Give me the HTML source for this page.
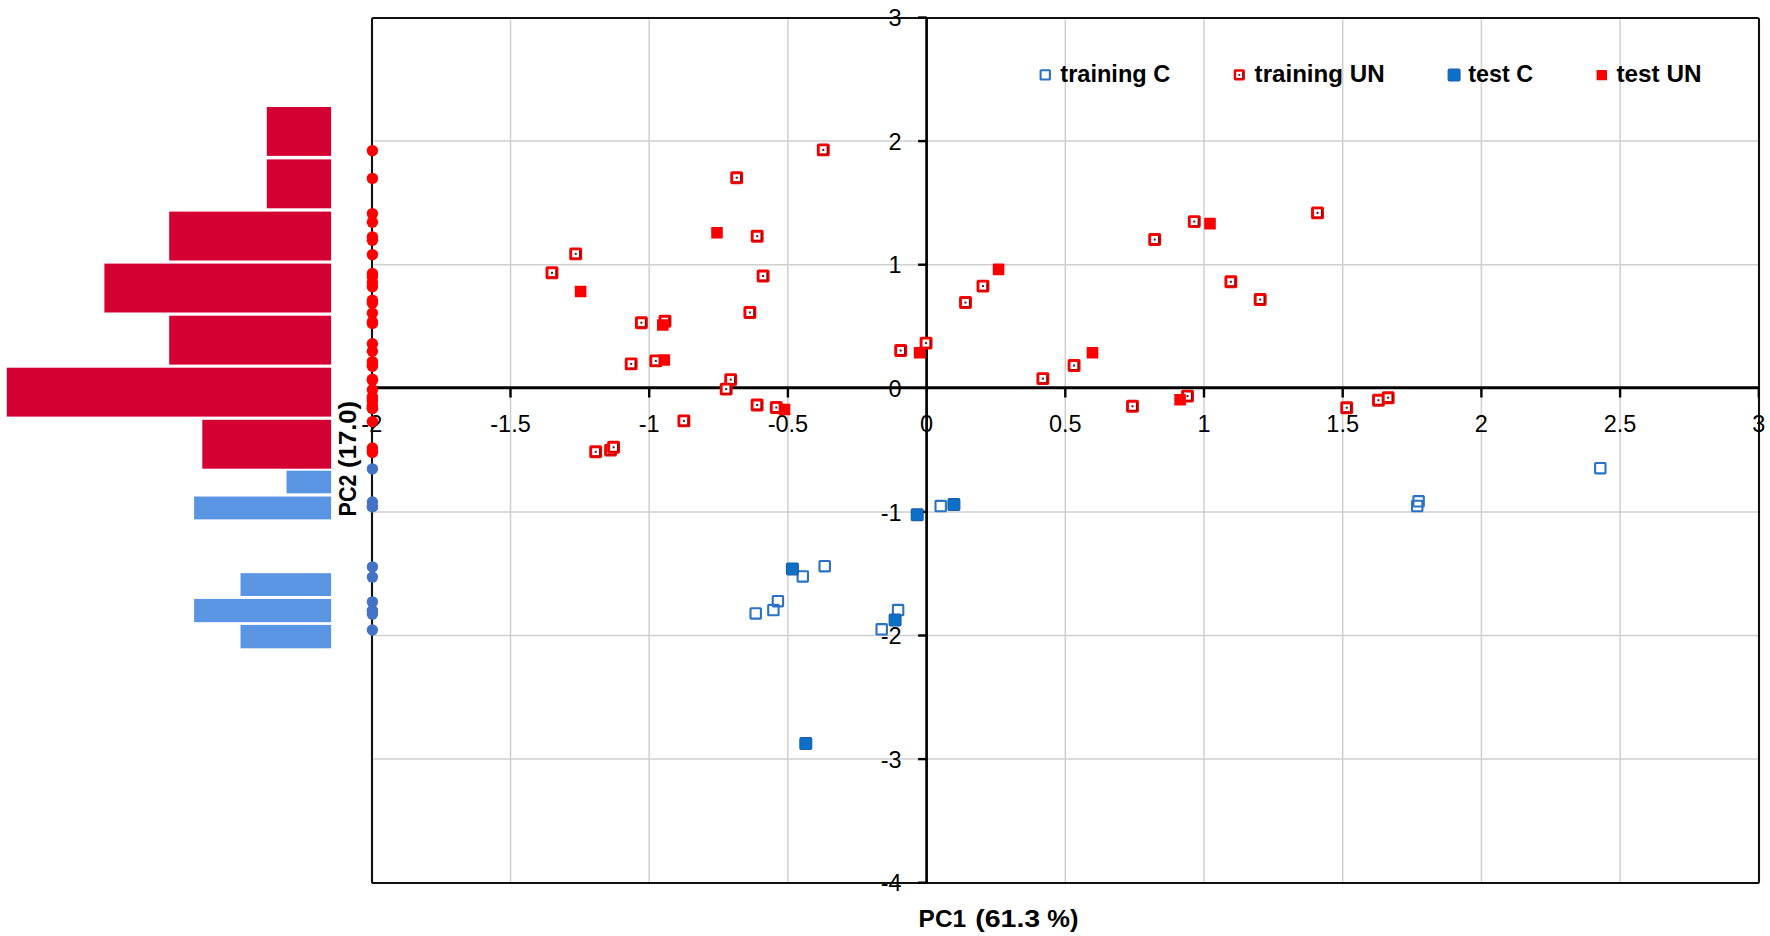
<!DOCTYPE html>
<html lang="en"><head><meta charset="utf-8"><title>PCA score plot</title>
<style>html,body{margin:0;padding:0;background:#fff}svg{display:block}text{font-family:"Liberation Sans",sans-serif;fill:#000}.t{font-size:23.5px}.b{font-weight:bold}</style></head><body>
<svg width="1770" height="936" viewBox="0 0 1770 936">
<rect width="1770" height="936" fill="#fff"/>
<g stroke="#cfcfcf" stroke-width="1.5" fill="none">
<line x1="510.5" y1="19.5" x2="510.5" y2="881.7"/>
<line x1="649.2" y1="19.5" x2="649.2" y2="881.7"/>
<line x1="787.9" y1="19.5" x2="787.9" y2="881.7"/>
<line x1="1065.3" y1="19.5" x2="1065.3" y2="881.7"/>
<line x1="1204.0" y1="19.5" x2="1204.0" y2="881.7"/>
<line x1="1342.7" y1="19.5" x2="1342.7" y2="881.7"/>
<line x1="1481.4" y1="19.5" x2="1481.4" y2="881.7"/>
<line x1="1620.1" y1="19.5" x2="1620.1" y2="881.7"/>
<line x1="373.8" y1="141.1" x2="1757.8" y2="141.1"/>
<line x1="373.8" y1="264.7" x2="1757.8" y2="264.7"/>
<line x1="373.8" y1="511.9" x2="1757.8" y2="511.9"/>
<line x1="373.8" y1="635.5" x2="1757.8" y2="635.5"/>
<line x1="373.8" y1="759.1" x2="1757.8" y2="759.1"/>
</g>
<rect x="372" y="18" width="1387" height="865" rx="1.5" fill="none" stroke="#111" stroke-width="2.1"/>
<g stroke="#000" fill="none">
<line x1="371.8" y1="387.7" x2="1759.3" y2="387.7" stroke-width="3"/>
<line x1="926.6" y1="17.0" x2="926.6" y2="883.2" stroke-width="2.7"/>
<line x1="371.8" y1="387.7" x2="371.8" y2="397.5" stroke-width="2.4"/>
<line x1="510.5" y1="387.7" x2="510.5" y2="397.5" stroke-width="2.4"/>
<line x1="649.2" y1="387.7" x2="649.2" y2="397.5" stroke-width="2.4"/>
<line x1="787.9" y1="387.7" x2="787.9" y2="397.5" stroke-width="2.4"/>
<line x1="1065.3" y1="387.7" x2="1065.3" y2="397.5" stroke-width="2.4"/>
<line x1="1204.0" y1="387.7" x2="1204.0" y2="397.5" stroke-width="2.4"/>
<line x1="1342.7" y1="387.7" x2="1342.7" y2="397.5" stroke-width="2.4"/>
<line x1="1481.4" y1="387.7" x2="1481.4" y2="397.5" stroke-width="2.4"/>
<line x1="1620.1" y1="387.7" x2="1620.1" y2="397.5" stroke-width="2.4"/>
<line x1="1758.8" y1="387.7" x2="1758.8" y2="397.5" stroke-width="2.4"/>
<line x1="918.1" y1="17.5" x2="926.6" y2="17.5" stroke-width="2.4"/>
<line x1="918.1" y1="141.1" x2="926.6" y2="141.1" stroke-width="2.4"/>
<line x1="918.1" y1="264.7" x2="926.6" y2="264.7" stroke-width="2.4"/>
<line x1="918.1" y1="511.9" x2="926.6" y2="511.9" stroke-width="2.4"/>
<line x1="918.1" y1="635.5" x2="926.6" y2="635.5" stroke-width="2.4"/>
<line x1="918.1" y1="759.1" x2="926.6" y2="759.1" stroke-width="2.4"/>
<line x1="918.1" y1="882.7" x2="926.6" y2="882.7" stroke-width="2.4"/>
</g>
<g class="t" text-anchor="middle">
<text x="371.8" y="432.4">-2</text>
<text x="510.5" y="432.4">-1.5</text>
<text x="649.2" y="432.4">-1</text>
<text x="787.9" y="432.4">-0.5</text>
<text x="926.6" y="432.4">0</text>
<text x="1065.3" y="432.4">0.5</text>
<text x="1204.0" y="432.4">1</text>
<text x="1342.7" y="432.4">1.5</text>
<text x="1481.4" y="432.4">2</text>
<text x="1620.1" y="432.4">2.5</text>
<text x="1758.8" y="432.4">3</text>
</g>
<g class="t" text-anchor="end">
<text x="901.6" y="26.1">3</text>
<text x="901.6" y="149.7">2</text>
<text x="901.6" y="273.3">1</text>
<text x="901.6" y="396.9">0</text>
<text x="901.6" y="520.5">-1</text>
<text x="901.6" y="644.1">-2</text>
<text x="901.6" y="767.7">-3</text>
<text x="901.6" y="891.3">-4</text>
</g>
<g fill="#d50032">
<rect x="266.8" y="107.0" width="64.3" height="48.9"/>
<rect x="266.8" y="159.4" width="64.3" height="48.9"/>
<rect x="169.2" y="211.6" width="161.9" height="48.9"/>
<rect x="104.4" y="263.6" width="226.7" height="48.9"/>
<rect x="169.2" y="315.7" width="161.9" height="48.9"/>
<rect x="6.8" y="367.7" width="324.3" height="48.9"/>
<rect x="202.3" y="419.8" width="128.8" height="48.9"/>
</g>
<g fill="#5a95e3">
<rect x="286.5" y="470.7" width="44.6" height="22.6"/>
<rect x="194.1" y="496.5" width="137.0" height="22.9"/>
<rect x="240.5" y="573.2" width="90.6" height="22.8"/>
<rect x="194.1" y="598.9" width="137.0" height="23.3"/>
<rect x="240.5" y="624.9" width="90.6" height="23.4"/>
</g>
<text class="b" font-size="24.7" transform="translate(355.5 515.8) rotate(-90)"><tspan x="-0.6" textLength="41.8" lengthAdjust="spacingAndGlyphs">PC2</tspan> <tspan x="47.9" textLength="67" lengthAdjust="spacingAndGlyphs">(17.0)</tspan></text>
<text class="b" font-size="24.7" y="926.8"><tspan x="918.6" textLength="47.5" lengthAdjust="spacingAndGlyphs">PC1</tspan> <tspan x="975.2" textLength="65" lengthAdjust="spacingAndGlyphs">(61.3</tspan> <tspan x="1047.3" textLength="31.2" lengthAdjust="spacingAndGlyphs">%)</tspan></text>
<g fill="#ff0000">
<circle cx="372.4" cy="150.6" r="5.7"/>
<circle cx="372.4" cy="178.4" r="5.7"/>
<circle cx="372.4" cy="236.9" r="5.7"/>
<circle cx="372.4" cy="254.6" r="5.7"/>
<circle cx="372.4" cy="273.5" r="5.7"/>
<circle cx="372.4" cy="276.7" r="5.7"/>
<circle cx="372.4" cy="313.2" r="5.7"/>
<circle cx="372.4" cy="323.4" r="5.7"/>
<circle cx="372.4" cy="321.9" r="5.7"/>
<circle cx="372.4" cy="364.6" r="5.7"/>
<circle cx="372.4" cy="361.6" r="5.7"/>
<circle cx="372.4" cy="351.2" r="5.7"/>
<circle cx="372.4" cy="343.8" r="5.7"/>
<circle cx="372.4" cy="380.3" r="5.7"/>
<circle cx="372.4" cy="389.8" r="5.7"/>
<circle cx="372.4" cy="405.7" r="5.7"/>
<circle cx="372.4" cy="408.2" r="5.7"/>
<circle cx="372.4" cy="421.6" r="5.7"/>
<circle cx="372.4" cy="452.5" r="5.7"/>
<circle cx="372.4" cy="450.8" r="5.7"/>
<circle cx="372.4" cy="448.0" r="5.7"/>
<circle cx="372.4" cy="213.6" r="5.7"/>
<circle cx="372.4" cy="222.3" r="5.7"/>
<circle cx="372.4" cy="240.2" r="5.7"/>
<circle cx="372.4" cy="282.5" r="5.7"/>
<circle cx="372.4" cy="300.2" r="5.7"/>
<circle cx="372.4" cy="286.8" r="5.7"/>
<circle cx="372.4" cy="303.2" r="5.7"/>
<circle cx="372.4" cy="366.2" r="5.7"/>
<circle cx="372.4" cy="379.3" r="5.7"/>
<circle cx="372.4" cy="396.8" r="5.7"/>
<circle cx="372.4" cy="407.0" r="5.7"/>
<circle cx="372.4" cy="408.4" r="5.7"/>
<circle cx="372.4" cy="400.9" r="5.7"/>
<circle cx="372.4" cy="398.4" r="5.7"/>
</g>
<g fill="#4472c4">
<circle cx="372.4" cy="506.8" r="5.7"/>
<circle cx="372.4" cy="566.9" r="5.7"/>
<circle cx="372.4" cy="577.1" r="5.7"/>
<circle cx="372.4" cy="601.9" r="5.7"/>
<circle cx="372.4" cy="610.8" r="5.7"/>
<circle cx="372.4" cy="614.1" r="5.7"/>
<circle cx="372.4" cy="610.8" r="5.7"/>
<circle cx="372.4" cy="630.0" r="5.7"/>
<circle cx="372.4" cy="468.9" r="5.7"/>
<circle cx="372.4" cy="502.0" r="5.7"/>
<circle cx="372.4" cy="506.7" r="5.7"/>
</g>
<rect x="935.5" y="500.9" width="10.4" height="10.4" rx="0.6" fill="none" stroke="#2b71c4" stroke-width="2.1"/>
<rect x="819.5" y="561.0" width="10.4" height="10.4" rx="0.6" fill="none" stroke="#2b71c4" stroke-width="2.1"/>
<rect x="797.6" y="571.2" width="10.4" height="10.4" rx="0.6" fill="none" stroke="#2b71c4" stroke-width="2.1"/>
<rect x="772.7" y="596.0" width="10.4" height="10.4" rx="0.6" fill="none" stroke="#2b71c4" stroke-width="2.1"/>
<rect x="768.2" y="604.9" width="10.4" height="10.4" rx="0.6" fill="none" stroke="#2b71c4" stroke-width="2.1"/>
<rect x="750.5" y="608.2" width="10.4" height="10.4" rx="0.6" fill="none" stroke="#2b71c4" stroke-width="2.1"/>
<rect x="892.9" y="604.9" width="10.4" height="10.4" rx="0.6" fill="none" stroke="#2b71c4" stroke-width="2.1"/>
<rect x="876.5" y="624.1" width="10.4" height="10.4" rx="0.6" fill="none" stroke="#2b71c4" stroke-width="2.1"/>
<rect x="1595.1" y="463.0" width="10.4" height="10.4" rx="0.6" fill="none" stroke="#2b71c4" stroke-width="2.1"/>
<rect x="1413.4" y="496.1" width="10.4" height="10.4" rx="0.6" fill="none" stroke="#2b71c4" stroke-width="2.1"/>
<rect x="1412.0" y="500.8" width="10.4" height="10.4" rx="0.6" fill="none" stroke="#2b71c4" stroke-width="2.1"/>
<g transform="translate(823.3 149.9)"><rect x="-5" y="-5" width="10" height="10" rx="0.5" fill="#fff" stroke="#f40000" stroke-width="2.9"/><path d="M4.1 -3.4V4.1" fill="none" stroke="#8e0000" stroke-width="1.4"/><path d="M4.1 4.2H-3.6" fill="none" stroke="#a00000" stroke-width="0.9"/><rect x="-1" y="-1" width="2" height="2" fill="#5a1420"/></g>
<g transform="translate(736.7 177.7)"><rect x="-5" y="-5" width="10" height="10" rx="0.5" fill="#fff" stroke="#f40000" stroke-width="2.9"/><path d="M4.1 -3.4V4.1" fill="none" stroke="#8e0000" stroke-width="1.4"/><path d="M4.1 4.2H-3.6" fill="none" stroke="#a00000" stroke-width="0.9"/><rect x="-1" y="-1" width="2" height="2" fill="#5a1420"/></g>
<g transform="translate(757.2 236.2)"><rect x="-5" y="-5" width="10" height="10" rx="0.5" fill="#fff" stroke="#f40000" stroke-width="2.9"/><path d="M4.1 -3.4V4.1" fill="none" stroke="#8e0000" stroke-width="1.4"/><path d="M4.1 4.2H-3.6" fill="none" stroke="#a00000" stroke-width="0.9"/><rect x="-1" y="-1" width="2" height="2" fill="#5a1420"/></g>
<g transform="translate(575.7 253.9)"><rect x="-5" y="-5" width="10" height="10" rx="0.5" fill="#fff" stroke="#f40000" stroke-width="2.9"/><path d="M4.1 -3.4V4.1" fill="none" stroke="#8e0000" stroke-width="1.4"/><path d="M4.1 4.2H-3.6" fill="none" stroke="#a00000" stroke-width="0.9"/><rect x="-1" y="-1" width="2" height="2" fill="#5a1420"/></g>
<g transform="translate(552.0 272.8)"><rect x="-5" y="-5" width="10" height="10" rx="0.5" fill="#fff" stroke="#f40000" stroke-width="2.9"/><path d="M4.1 -3.4V4.1" fill="none" stroke="#8e0000" stroke-width="1.4"/><path d="M4.1 4.2H-3.6" fill="none" stroke="#a00000" stroke-width="0.9"/><rect x="-1" y="-1" width="2" height="2" fill="#5a1420"/></g>
<g transform="translate(763.1 276.0)"><rect x="-5" y="-5" width="10" height="10" rx="0.5" fill="#fff" stroke="#f40000" stroke-width="2.9"/><path d="M4.1 -3.4V4.1" fill="none" stroke="#8e0000" stroke-width="1.4"/><path d="M4.1 4.2H-3.6" fill="none" stroke="#a00000" stroke-width="0.9"/><rect x="-1" y="-1" width="2" height="2" fill="#5a1420"/></g>
<g transform="translate(749.9 312.5)"><rect x="-5" y="-5" width="10" height="10" rx="0.5" fill="#fff" stroke="#f40000" stroke-width="2.9"/><path d="M4.1 -3.4V4.1" fill="none" stroke="#8e0000" stroke-width="1.4"/><path d="M4.1 4.2H-3.6" fill="none" stroke="#a00000" stroke-width="0.9"/><rect x="-1" y="-1" width="2" height="2" fill="#5a1420"/></g>
<g transform="translate(641.4 322.7)"><rect x="-5" y="-5" width="10" height="10" rx="0.5" fill="#fff" stroke="#f40000" stroke-width="2.9"/><path d="M4.1 -3.4V4.1" fill="none" stroke="#8e0000" stroke-width="1.4"/><path d="M4.1 4.2H-3.6" fill="none" stroke="#a00000" stroke-width="0.9"/><rect x="-1" y="-1" width="2" height="2" fill="#5a1420"/></g>
<g transform="translate(665.0 321.2)"><rect x="-5" y="-5" width="10" height="10" rx="0.5" fill="#fff" stroke="#f40000" stroke-width="2.9"/><path d="M4.1 -3.4V4.1" fill="none" stroke="#8e0000" stroke-width="1.4"/><path d="M4.1 4.2H-3.6" fill="none" stroke="#a00000" stroke-width="0.9"/><rect x="-1" y="-1" width="2" height="2" fill="#5a1420"/></g>
<g transform="translate(631.2 363.9)"><rect x="-5" y="-5" width="10" height="10" rx="0.5" fill="#fff" stroke="#f40000" stroke-width="2.9"/><path d="M4.1 -3.4V4.1" fill="none" stroke="#8e0000" stroke-width="1.4"/><path d="M4.1 4.2H-3.6" fill="none" stroke="#a00000" stroke-width="0.9"/><rect x="-1" y="-1" width="2" height="2" fill="#5a1420"/></g>
<g transform="translate(655.8 360.9)"><rect x="-5" y="-5" width="10" height="10" rx="0.5" fill="#fff" stroke="#f40000" stroke-width="2.9"/><path d="M4.1 -3.4V4.1" fill="none" stroke="#8e0000" stroke-width="1.4"/><path d="M4.1 4.2H-3.6" fill="none" stroke="#a00000" stroke-width="0.9"/><rect x="-1" y="-1" width="2" height="2" fill="#5a1420"/></g>
<g transform="translate(900.7 350.5)"><rect x="-5" y="-5" width="10" height="10" rx="0.5" fill="#fff" stroke="#f40000" stroke-width="2.9"/><path d="M4.1 -3.4V4.1" fill="none" stroke="#8e0000" stroke-width="1.4"/><path d="M4.1 4.2H-3.6" fill="none" stroke="#a00000" stroke-width="0.9"/><rect x="-1" y="-1" width="2" height="2" fill="#5a1420"/></g>
<g transform="translate(926.1 343.1)"><rect x="-5" y="-5" width="10" height="10" rx="0.5" fill="#fff" stroke="#f40000" stroke-width="2.9"/><path d="M4.1 -3.4V4.1" fill="none" stroke="#8e0000" stroke-width="1.4"/><path d="M4.1 4.2H-3.6" fill="none" stroke="#a00000" stroke-width="0.9"/><rect x="-1" y="-1" width="2" height="2" fill="#5a1420"/></g>
<g transform="translate(730.7 379.6)"><rect x="-5" y="-5" width="10" height="10" rx="0.5" fill="#fff" stroke="#f40000" stroke-width="2.9"/><path d="M4.1 -3.4V4.1" fill="none" stroke="#8e0000" stroke-width="1.4"/><path d="M4.1 4.2H-3.6" fill="none" stroke="#a00000" stroke-width="0.9"/><rect x="-1" y="-1" width="2" height="2" fill="#5a1420"/></g>
<g transform="translate(726.2 389.1)"><rect x="-5" y="-5" width="10" height="10" rx="0.5" fill="#fff" stroke="#f40000" stroke-width="2.9"/><path d="M4.1 -3.4V4.1" fill="none" stroke="#8e0000" stroke-width="1.4"/><path d="M4.1 4.2H-3.6" fill="none" stroke="#a00000" stroke-width="0.9"/><rect x="-1" y="-1" width="2" height="2" fill="#5a1420"/></g>
<g transform="translate(757.1 405.0)"><rect x="-5" y="-5" width="10" height="10" rx="0.5" fill="#fff" stroke="#f40000" stroke-width="2.9"/><path d="M4.1 -3.4V4.1" fill="none" stroke="#8e0000" stroke-width="1.4"/><path d="M4.1 4.2H-3.6" fill="none" stroke="#a00000" stroke-width="0.9"/><rect x="-1" y="-1" width="2" height="2" fill="#5a1420"/></g>
<g transform="translate(776.3 407.5)"><rect x="-5" y="-5" width="10" height="10" rx="0.5" fill="#fff" stroke="#f40000" stroke-width="2.9"/><path d="M4.1 -3.4V4.1" fill="none" stroke="#8e0000" stroke-width="1.4"/><path d="M4.1 4.2H-3.6" fill="none" stroke="#a00000" stroke-width="0.9"/><rect x="-1" y="-1" width="2" height="2" fill="#5a1420"/></g>
<g transform="translate(683.9 420.9)"><rect x="-5" y="-5" width="10" height="10" rx="0.5" fill="#fff" stroke="#f40000" stroke-width="2.9"/><path d="M4.1 -3.4V4.1" fill="none" stroke="#8e0000" stroke-width="1.4"/><path d="M4.1 4.2H-3.6" fill="none" stroke="#a00000" stroke-width="0.9"/><rect x="-1" y="-1" width="2" height="2" fill="#5a1420"/></g>
<g transform="translate(595.7 451.8)"><rect x="-5" y="-5" width="10" height="10" rx="0.5" fill="#fff" stroke="#f40000" stroke-width="2.9"/><path d="M4.1 -3.4V4.1" fill="none" stroke="#8e0000" stroke-width="1.4"/><path d="M4.1 4.2H-3.6" fill="none" stroke="#a00000" stroke-width="0.9"/><rect x="-1" y="-1" width="2" height="2" fill="#5a1420"/></g>
<g transform="translate(610.6 450.1)"><rect x="-5" y="-5" width="10" height="10" rx="0.5" fill="#fff" stroke="#f40000" stroke-width="2.9"/><path d="M4.1 -3.4V4.1" fill="none" stroke="#8e0000" stroke-width="1.4"/><path d="M4.1 4.2H-3.6" fill="none" stroke="#a00000" stroke-width="0.9"/><rect x="-1" y="-1" width="2" height="2" fill="#5a1420"/></g>
<g transform="translate(613.6 447.3)"><rect x="-5" y="-5" width="10" height="10" rx="0.5" fill="#fff" stroke="#f40000" stroke-width="2.9"/><path d="M4.1 -3.4V4.1" fill="none" stroke="#8e0000" stroke-width="1.4"/><path d="M4.1 4.2H-3.6" fill="none" stroke="#a00000" stroke-width="0.9"/><rect x="-1" y="-1" width="2" height="2" fill="#5a1420"/></g>
<g transform="translate(1317.5 212.9)"><rect x="-5" y="-5" width="10" height="10" rx="0.5" fill="#fff" stroke="#f40000" stroke-width="2.9"/><path d="M4.1 -3.4V4.1" fill="none" stroke="#8e0000" stroke-width="1.4"/><path d="M4.1 4.2H-3.6" fill="none" stroke="#a00000" stroke-width="0.9"/><rect x="-1" y="-1" width="2" height="2" fill="#5a1420"/></g>
<g transform="translate(1194.3 221.6)"><rect x="-5" y="-5" width="10" height="10" rx="0.5" fill="#fff" stroke="#f40000" stroke-width="2.9"/><path d="M4.1 -3.4V4.1" fill="none" stroke="#8e0000" stroke-width="1.4"/><path d="M4.1 4.2H-3.6" fill="none" stroke="#a00000" stroke-width="0.9"/><rect x="-1" y="-1" width="2" height="2" fill="#5a1420"/></g>
<g transform="translate(1154.7 239.5)"><rect x="-5" y="-5" width="10" height="10" rx="0.5" fill="#fff" stroke="#f40000" stroke-width="2.9"/><path d="M4.1 -3.4V4.1" fill="none" stroke="#8e0000" stroke-width="1.4"/><path d="M4.1 4.2H-3.6" fill="none" stroke="#a00000" stroke-width="0.9"/><rect x="-1" y="-1" width="2" height="2" fill="#5a1420"/></g>
<g transform="translate(1230.9 281.8)"><rect x="-5" y="-5" width="10" height="10" rx="0.5" fill="#fff" stroke="#f40000" stroke-width="2.9"/><path d="M4.1 -3.4V4.1" fill="none" stroke="#8e0000" stroke-width="1.4"/><path d="M4.1 4.2H-3.6" fill="none" stroke="#a00000" stroke-width="0.9"/><rect x="-1" y="-1" width="2" height="2" fill="#5a1420"/></g>
<g transform="translate(1260.2 299.5)"><rect x="-5" y="-5" width="10" height="10" rx="0.5" fill="#fff" stroke="#f40000" stroke-width="2.9"/><path d="M4.1 -3.4V4.1" fill="none" stroke="#8e0000" stroke-width="1.4"/><path d="M4.1 4.2H-3.6" fill="none" stroke="#a00000" stroke-width="0.9"/><rect x="-1" y="-1" width="2" height="2" fill="#5a1420"/></g>
<g transform="translate(983.0 286.1)"><rect x="-5" y="-5" width="10" height="10" rx="0.5" fill="#fff" stroke="#f40000" stroke-width="2.9"/><path d="M4.1 -3.4V4.1" fill="none" stroke="#8e0000" stroke-width="1.4"/><path d="M4.1 4.2H-3.6" fill="none" stroke="#a00000" stroke-width="0.9"/><rect x="-1" y="-1" width="2" height="2" fill="#5a1420"/></g>
<g transform="translate(965.5 302.5)"><rect x="-5" y="-5" width="10" height="10" rx="0.5" fill="#fff" stroke="#f40000" stroke-width="2.9"/><path d="M4.1 -3.4V4.1" fill="none" stroke="#8e0000" stroke-width="1.4"/><path d="M4.1 4.2H-3.6" fill="none" stroke="#a00000" stroke-width="0.9"/><rect x="-1" y="-1" width="2" height="2" fill="#5a1420"/></g>
<g transform="translate(1074.1 365.5)"><rect x="-5" y="-5" width="10" height="10" rx="0.5" fill="#fff" stroke="#f40000" stroke-width="2.9"/><path d="M4.1 -3.4V4.1" fill="none" stroke="#8e0000" stroke-width="1.4"/><path d="M4.1 4.2H-3.6" fill="none" stroke="#a00000" stroke-width="0.9"/><rect x="-1" y="-1" width="2" height="2" fill="#5a1420"/></g>
<g transform="translate(1042.9 378.6)"><rect x="-5" y="-5" width="10" height="10" rx="0.5" fill="#fff" stroke="#f40000" stroke-width="2.9"/><path d="M4.1 -3.4V4.1" fill="none" stroke="#8e0000" stroke-width="1.4"/><path d="M4.1 4.2H-3.6" fill="none" stroke="#a00000" stroke-width="0.9"/><rect x="-1" y="-1" width="2" height="2" fill="#5a1420"/></g>
<g transform="translate(1187.5 396.1)"><rect x="-5" y="-5" width="10" height="10" rx="0.5" fill="#fff" stroke="#f40000" stroke-width="2.9"/><path d="M4.1 -3.4V4.1" fill="none" stroke="#8e0000" stroke-width="1.4"/><path d="M4.1 4.2H-3.6" fill="none" stroke="#a00000" stroke-width="0.9"/><rect x="-1" y="-1" width="2" height="2" fill="#5a1420"/></g>
<g transform="translate(1132.5 406.3)"><rect x="-5" y="-5" width="10" height="10" rx="0.5" fill="#fff" stroke="#f40000" stroke-width="2.9"/><path d="M4.1 -3.4V4.1" fill="none" stroke="#8e0000" stroke-width="1.4"/><path d="M4.1 4.2H-3.6" fill="none" stroke="#a00000" stroke-width="0.9"/><rect x="-1" y="-1" width="2" height="2" fill="#5a1420"/></g>
<g transform="translate(1346.7 407.7)"><rect x="-5" y="-5" width="10" height="10" rx="0.5" fill="#fff" stroke="#f40000" stroke-width="2.9"/><path d="M4.1 -3.4V4.1" fill="none" stroke="#8e0000" stroke-width="1.4"/><path d="M4.1 4.2H-3.6" fill="none" stroke="#a00000" stroke-width="0.9"/><rect x="-1" y="-1" width="2" height="2" fill="#5a1420"/></g>
<g transform="translate(1378.5 400.2)"><rect x="-5" y="-5" width="10" height="10" rx="0.5" fill="#fff" stroke="#f40000" stroke-width="2.9"/><path d="M4.1 -3.4V4.1" fill="none" stroke="#8e0000" stroke-width="1.4"/><path d="M4.1 4.2H-3.6" fill="none" stroke="#a00000" stroke-width="0.9"/><rect x="-1" y="-1" width="2" height="2" fill="#5a1420"/></g>
<g transform="translate(1388.2 397.7)"><rect x="-5" y="-5" width="10" height="10" rx="0.5" fill="#fff" stroke="#f40000" stroke-width="2.9"/><path d="M4.1 -3.4V4.1" fill="none" stroke="#8e0000" stroke-width="1.4"/><path d="M4.1 4.2H-3.6" fill="none" stroke="#a00000" stroke-width="0.9"/><rect x="-1" y="-1" width="2" height="2" fill="#5a1420"/></g>
<rect x="911.3" y="508.9" width="11.8" height="11.8" rx="1.2" fill="#0d70c8" stroke="#1a5eac" stroke-width="1.2"/>
<rect x="948.0" y="498.7" width="11.8" height="11.8" rx="1.2" fill="#0d70c8" stroke="#1a5eac" stroke-width="1.2"/>
<rect x="786.5" y="563.0" width="11.8" height="11.8" rx="1.2" fill="#0d70c8" stroke="#1a5eac" stroke-width="1.2"/>
<rect x="889.2" y="614.2" width="11.8" height="11.8" rx="1.2" fill="#0d70c8" stroke="#1a5eac" stroke-width="1.2"/>
<rect x="799.9" y="737.7" width="11.8" height="11.8" rx="1.2" fill="#0d70c8" stroke="#1a5eac" stroke-width="1.2"/>
<rect x="711.2" y="226.9" width="11.6" height="11.6" rx="0.6" fill="#fb0000"/>
<rect x="574.8" y="285.7" width="11.6" height="11.6" rx="0.6" fill="#fb0000"/>
<rect x="657.0" y="319.2" width="11.6" height="11.6" rx="0.6" fill="#fb0000"/>
<rect x="658.5" y="354.2" width="11.6" height="11.6" rx="0.6" fill="#fb0000"/>
<rect x="913.8" y="347.0" width="11.6" height="11.6" rx="0.6" fill="#fb0000"/>
<rect x="778.7" y="403.7" width="11.6" height="11.6" rx="0.6" fill="#fb0000"/>
<rect x="1204.2" y="217.8" width="11.6" height="11.6" rx="0.6" fill="#fb0000"/>
<rect x="992.8" y="263.6" width="11.6" height="11.6" rx="0.6" fill="#fb0000"/>
<rect x="1086.7" y="347.0" width="11.6" height="11.6" rx="0.6" fill="#fb0000"/>
<rect x="1174.3" y="394.0" width="11.6" height="11.6" rx="0.6" fill="#fb0000"/>
<rect x="1040.6" y="70.2" width="9.3" height="9.3" rx="0.6" fill="none" stroke="#2b71c4" stroke-width="2.1"/>
<g transform="translate(1239.3 74.9) scale(0.87)"><rect x="-5" y="-5" width="10" height="10" rx="0.5" fill="#fff" stroke="#f40000" stroke-width="2.9"/><path d="M4.1 -3.4V4.1" fill="none" stroke="#8e0000" stroke-width="1.4"/><path d="M4.1 4.2H-3.6" fill="none" stroke="#a00000" stroke-width="0.9"/><rect x="-1" y="-1" width="2" height="2" fill="#5a1420"/></g>
<rect x="1448.2" y="69.2" width="11.8" height="11.8" rx="1.2" fill="#0d70c8" stroke="#1a5eac" stroke-width="1.2"/>
<rect x="1596.6" y="69.9" width="10.4" height="10.4" rx="0.6" fill="#fb0000"/>
<g class="b" font-size="23.7">
<text x="1060.3" y="82.2" textLength="110" lengthAdjust="spacingAndGlyphs">training C</text>
<text x="1254.6" y="82.2" textLength="130" lengthAdjust="spacingAndGlyphs">training UN</text>
<text x="1468.2" y="82.2" textLength="64.8" lengthAdjust="spacingAndGlyphs">test C</text>
<text x="1616.5" y="82.2" textLength="85" lengthAdjust="spacingAndGlyphs">test UN</text>
</g>
</svg></body></html>
